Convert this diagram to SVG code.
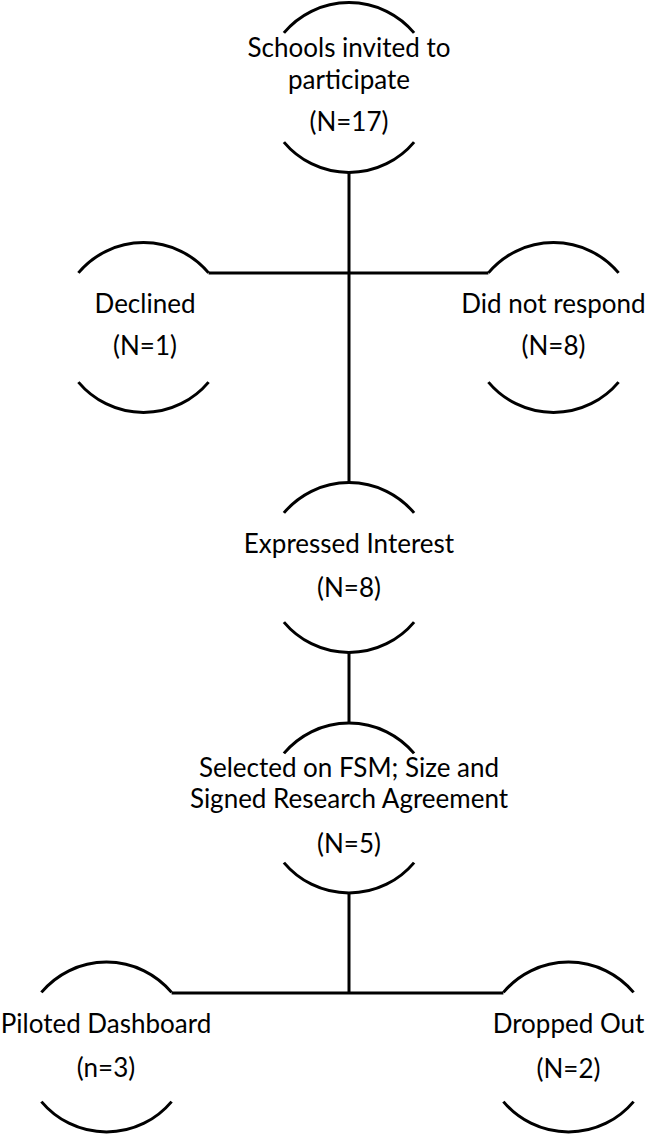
<svg xmlns="http://www.w3.org/2000/svg" width="646" height="1135" viewBox="0 0 646 1135">
<style>
.arc{fill:none;stroke:#000;stroke-width:3;stroke-linecap:butt}
.c{fill:none;stroke:#000;stroke-width:3}
text{font-family:Lato,"Liberation Sans",sans-serif;font-size:26px;fill:#000;text-anchor:middle}
</style>
<rect width="646" height="1135" fill="#fff"/>
<g id="connectors">
<path class="c" d="M349 173 V482"/>
<path class="c" d="M208.6 273 H488.4"/>
<path class="c" d="M349 653 V723"/>
<path class="c" d="M349 893 V993"/>
<path class="c" d="M171.6 993 H503.4"/>
</g>
<g id="n1">
<path class="arc" d="M283.9 32.9 A85 85 0 0 1 414.1 32.9"/>
<path class="arc" d="M283.9 142.1 A85 85 0 0 0 414.1 142.1"/>
<text x="349" y="57">Schools invited to</text>
<text x="349" y="89">participate</text>
<text x="349" y="131">(N=17)</text>
</g>
<g id="n2">
<path class="arc" d="M78.4 272.9 A85 85 0 0 1 208.6 272.9"/>
<path class="arc" d="M78.4 382.1 A85 85 0 0 0 208.6 382.1"/>
<text x="145" y="313">Declined</text>
<text x="145" y="355">(N=1)</text>
</g>
<g id="n3">
<path class="arc" d="M488.4 272.9 A85 85 0 0 1 618.6 272.9"/>
<path class="arc" d="M488.4 382.1 A85 85 0 0 0 618.6 382.1"/>
<text x="553.5" y="313">Did not respond</text>
<text x="553.5" y="355">(N=8)</text>
</g>
<g id="n4">
<path class="arc" d="M283.9 512.9 A85 85 0 0 1 414.1 512.9"/>
<path class="arc" d="M283.9 622.1 A85 85 0 0 0 414.1 622.1"/>
<text x="349" y="553">Expressed Interest</text>
<text x="349" y="597">(N=8)</text>
</g>
<g id="n5">
<path class="arc" d="M283.9 753.4 A85 85 0 0 1 414.1 753.4"/>
<path class="arc" d="M283.9 862.6 A85 85 0 0 0 414.1 862.6"/>
<text x="349" y="777">Selected on FSM; Size and</text>
<text x="349" y="808">Signed Research Agreement</text>
<text x="349" y="853">(N=5)</text>
</g>
<g id="n6">
<path class="arc" d="M41.4 992.4 A85 85 0 0 1 171.6 992.4"/>
<path class="arc" d="M41.4 1101.6 A85 85 0 0 0 171.6 1101.6"/>
<text x="106" y="1033">Piloted Dashboard</text>
<text x="106" y="1077">(n=3)</text>
</g>
<g id="n7">
<path class="arc" d="M503.4 992.4 A85 85 0 0 1 633.6 992.4"/>
<path class="arc" d="M503.4 1101.6 A85 85 0 0 0 633.6 1101.6"/>
<text x="568.5" y="1033">Dropped Out</text>
<text x="568.5" y="1078">(N=2)</text>
</g>
</svg>
